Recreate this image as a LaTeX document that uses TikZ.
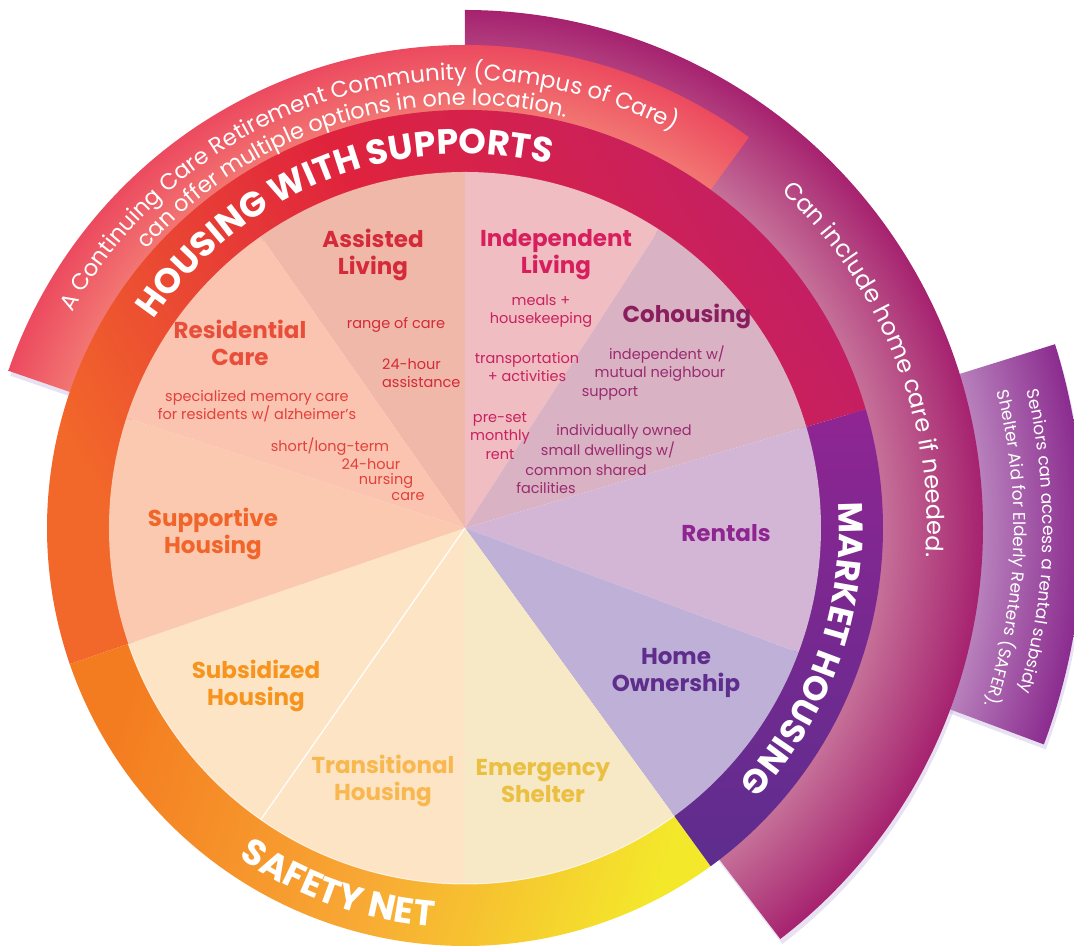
\documentclass[tikz,border=0pt]{standalone}
\usepackage{fontspec}
\setmainfont{Poppins}
\usetikzlibrary{decorations.text}

\definecolor{pkIn}{HTML}{F27672}
\definecolor{pkOut}{HTML}{EC4A5F}
\definecolor{careIn}{HTML}{C56F98}
\definecolor{careOut}{HTML}{A6226F}
\definecolor{saferIn}{HTML}{B881BC}
\definecolor{saferOut}{HTML}{8B2B8F}
\definecolor{shadowc}{HTML}{B9A9D9}
\definecolor{hwsA}{HTML}{F2672A}
\definecolor{hwsB}{HTML}{E0233D}
\definecolor{hwsC}{HTML}{C21F66}
\definecolor{snA}{HTML}{F47C20}
\definecolor{snB}{HTML}{F8A834}
\definecolor{snC}{HTML}{F4E82B}
\definecolor{mkA}{HTML}{8F2592}
\definecolor{mkB}{HTML}{5D2D8E}
\definecolor{slAssist}{HTML}{F0B8A8}
\definecolor{slIndep}{HTML}{F0BEC2}
\definecolor{slCoho}{HTML}{D9B2C3}
\definecolor{slRent}{HTML}{D3B6D6}
\definecolor{slHome}{HTML}{BEB0D6}
\definecolor{slEmerg}{HTML}{F7E8C6}
\definecolor{slTrans}{HTML}{FDE4C4}
\definecolor{slSupp}{HTML}{FBC9AF}
\definecolor{slResid}{HTML}{FAC4B0}
\definecolor{tAssist}{HTML}{D42A3A}
\definecolor{tResid}{HTML}{E94E3B}
\definecolor{tResidS}{HTML}{E3403B}
\definecolor{tIndep}{HTML}{D81F5E}
\definecolor{tIndepS}{HTML}{C8215F}
\definecolor{tCoho}{HTML}{8A1E5E}
\definecolor{tCohoS}{HTML}{9A2A6F}
\definecolor{tRent}{HTML}{8E2590}
\definecolor{tHome}{HTML}{5F2D8C}
\definecolor{tEmerg}{HTML}{EBBF40}
\definecolor{tTrans}{HTML}{F8B84F}
\definecolor{tSubs}{HTML}{F7941E}
\definecolor{tSupp}{HTML}{F1652A}

\pgfdeclareradialshading{pinkband}{\pgfpoint{0bp}{0bp}}{color(0bp)=(pkIn); color(21.6bp)=(pkIn); color(25bp)=(pkOut); color(50bp)=(pkOut)}
\pgfdeclareradialshading{careband}{\pgfpoint{0bp}{0bp}}{color(0bp)=(careIn); color(20.2bp)=(careIn); color(25bp)=(careOut); color(50bp)=(careOut)}
\pgfdeclareradialshading{saferband}{\pgfpoint{0bp}{0bp}}{color(0bp)=(saferIn); color(20.9bp)=(saferIn); color(25bp)=(saferOut); color(50bp)=(saferOut)}

\newcommand\annpath[4]{(#1:#4) arc[start angle=#1, end angle=#2, radius=#4] -- (#2:#3) arc[start angle=#2, end angle=#1, radius=#3] -- cycle}
\newcommand\pieslice[3]{\fill[#3] (0,0) -- (#1:356) arc[start angle=#1, end angle=#2, radius=356] -- cycle;}

\tikzset{
  title/.style={font=\fontsize{23}{27}\selectfont\bfseries, align=center, inner sep=0pt},
  small/.style={font=\fontsize{14.5}{18.5}\selectfont, align=center, inner sep=0pt},
  bandshadow/.style={fill=shadowc, opacity=0.35, shift={(2,-5)}}
}

\begin{document}
\begin{tikzpicture}[x=1pt,y=1pt]
\useasboundingbox (-465,-421) rectangle (609,528);
\clip (-465,-421) rectangle (609,528);

% shadows
\fill[bandshadow] \annpath{-20.5}{17.3}{500}{618};
\fill[bandshadow] \annpath{-52.5}{90}{400}{518};
\fill[bandshadow] \annpath{54}{161}{400}{483};

% SAFER band
\begin{scope}
\clip \annpath{-20.5}{17.3}{500}{618};
\shade[shading=saferband] (0,0) circle (618);
\end{scope}
% home care band
\begin{scope}
\clip \annpath{-52.5}{90}{400}{518};
\shade[shading=careband] (0,0) circle (518);
\end{scope}
% CCRC band
\begin{scope}
\clip \annpath{54}{161}{400}{483};
\shade[shading=pinkband] (0,0) circle (483);
\end{scope}

% main ring
\shade[left color=hwsA, right color=hwsC, middle color=hwsB, shading angle=120] \annpath{16.5}{199}{350}{418};
\shade[left color=snA, right color=snC, middle color=snB, shading angle=72] \annpath{199}{306}{350}{418};
\shade[top color=mkA, bottom color=mkB] \annpath{-54}{16.5}{350}{418};

% pie
\pieslice{90}{125}{slAssist}
\pieslice{57}{90}{slIndep}
\pieslice{16.5}{57}{slCoho}
\pieslice{-20.5}{16.5}{slRent}
\pieslice{-54}{-20.5}{slHome}
\pieslice{-90}{-54}{slEmerg}
\pieslice{-125}{-90}{slTrans}
\pieslice{199}{235}{slTrans}
\pieslice{162}{199}{slSupp}
\pieslice{125}{162}{slResid}
\draw[white, line width=1.2pt] (0,0) -- (235:356);
\draw[white, opacity=0.7, line width=1pt] (199:356) arc[start angle=199, end angle=306, radius=356];

% ring texts
\path[decorate, decoration={text along path, text align=center, text color=white,
  text={|\fontsize{35}{35}\selectfont\bfseries|HOUSING WITH SUPPORTS}}]
  (175:374) arc[start angle=175, end angle=48, radius=374];
\path[decorate, decoration={text along path, text align=center, text color=white,
  text={|\fontsize{36}{36}\selectfont\bfseries|SAFETY NET}}]
  (210.5:400) arc[start angle=210.5, end angle=290.5, radius=400];
\path[decorate, decoration={text along path, text align=center, text color=white,
  text={|\fontsize{34}{34}\selectfont\bfseries|MARKET HOUSING}}]
  (15:374) arc[start angle=15, end angle=-54, radius=374];

% band texts
\path[decorate, decoration={text along path, text align=center, text color=white,
  text={|\fontsize{22.8}{22.8}\selectfont|A Continuing Care Retirement Community (Campus of Care)}}]
  (160:448) arc[start angle=160, end angle=53.5, radius=448];
\path[decorate, decoration={text along path, text align=center, text color=white,
  text={|\fontsize{22.4}{22.4}\selectfont|can offer multiple options in one location.}}]
  (159:423) arc[start angle=159, end angle=56, radius=423];
\path[decorate, decoration={text along path, text align=center, text color=white,
  text={|\fontsize{24}{24}\selectfont|Can include home care if needed.}}]
  (70:462) arc[start angle=70, end angle=-26.8, radius=462];
\path[decorate, decoration={text along path, text align=center, text color=white,
  text={|\fontsize{17}{17}\selectfont|Seniors can access a rental subsidy}}]
  (20:578) arc[start angle=20, end angle=-22.7, radius=578];
\path[decorate, decoration={text along path, text align=center, text color=white,
  text={|\fontsize{17}{17}\selectfont|Shelter Aid for Elderly Renters (SAFER).}}]
  (20:549) arc[start angle=20, end angle=-24.4, radius=549];

% slice titles
\node[title, text=tAssist] (assisted) at (-92,273) {Assisted\\Living};
\node[title, text=tIndep] (independent) at (91,273) {Independent\\Living};
\node[title, text=tCoho] (cohousing) at (222,212) {Cohousing};
\node[title, text=tResid] (residential) at (-225,185) {Residential\\Care};
\node[title, text=tSupp] (supportive) at (-252,-6) {Supportive\\Housing};
\node[title, text=tSubs] (subsidized) at (-209,-158) {Subsidized\\Housing};
\node[title, text=tTrans] (transitional) at (-82,-253) {Transitional\\Housing};
\node[title, text=tEmerg] (emergency) at (78,-253) {Emergency\\Shelter};
\node[title, text=tRent] (rentals) at (261,-5) {Rentals};
\node[title, text=tHome] (home) at (211,-145) {Home\\Ownership};

% small texts
\node[small, text=tAssist] (range) at (-69,203) {range of care};
\node[small, text=tAssist, anchor=west, align=left] (assist24) at (-83,155) {24-hour\\assistance};
\node[small, text=tIndepS] (meals) at (76,217) {meals +\\housekeeping};
\node[small, text=tIndepS] (transp) at (62,161) {transportation\\+ activities};
\node[small, text=tIndepS] (preset) at (35,92) {pre-set\\monthly\\rent};
\node[small, text=tCohoS] (co1) at (202,173) {independent w/};
\node[small, text=tCohoS] (co2) at (195,154) {mutual neighbour};
\node[small, text=tCohoS] (co3) at (145,135) {support};
\node[small, text=tCohoS] (in1) at (159,96) {individually owned};
\node[small, text=tCohoS] (in2) at (143,77) {small dwellings w/};
\node[small, text=tCohoS] (in3) at (121,58) {common shared};
\node[small, text=tCohoS] (in4) at (81,40) {facilities};
\node[small, text=tResidS, font=\fontsize{14.5}{15.5}\selectfont] (memory) at (-208,122) {specialized memory care\\for residents w/ alzheimer’s};
\node[small, text=tResidS] (sl1) at (-135,81) {short/long-term};
\node[small, text=tResidS] (sl2) at (-94,64) {24-hour};
\node[small, text=tResidS] (sl3) at (-79,47) {nursing};
\node[small, text=tResidS] (sl4) at (-57,31) {care};
\end{tikzpicture}
\end{document}
